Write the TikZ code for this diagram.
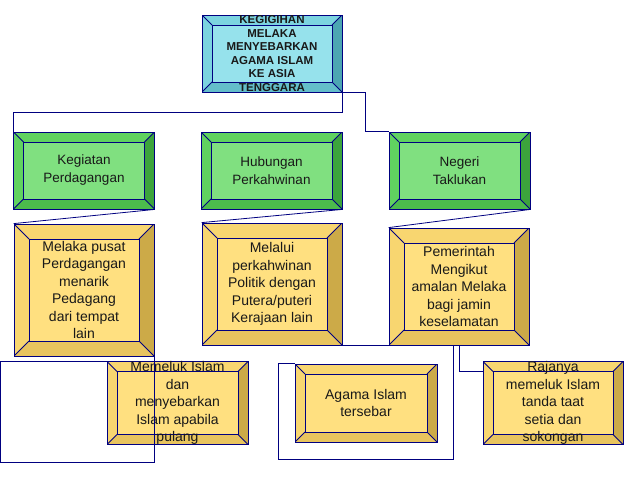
\documentclass[tikz,border=0pt]{standalone}
\usepackage{fontspec}
\setmainfont{Liberation Sans}
\usetikzlibrary{calc}

\definecolor{navy}{RGB}{0,0,128}
\definecolor{cyanface}{RGB}{150,226,236}
\definecolor{cyanlight}{RGB}{124,212,224}
\definecolor{cyanmid}{RGB}{100,190,202}
\definecolor{cyandark}{RGB}{76,166,178}
\definecolor{greenface}{RGB}{128,224,128}
\definecolor{greenlight}{RGB}{96,210,96}
\definecolor{greenmid}{RGB}{76,188,76}
\definecolor{greendark}{RGB}{60,164,60}
\definecolor{yellowface}{RGB}{255,224,128}
\definecolor{yellowlight}{RGB}{248,214,112}
\definecolor{yellowmid}{RGB}{232,196,94}
\definecolor{yellowdark}{RGB}{204,170,72}

\tikzset{
  bev/.style n args={5}{draw=navy, fill=#2, line width=0.8pt, inner sep=0pt,
    align=center, text=black!90,
    path picture={
      \coordinate (oNW) at (path picture bounding box.north west);
      \coordinate (oNE) at (path picture bounding box.north east);
      \coordinate (oSW) at (path picture bounding box.south west);
      \coordinate (oSE) at (path picture bounding box.south east);
      \coordinate (iNW) at ($(oNW)+(#1pt,-#1pt)$);
      \coordinate (iNE) at ($(oNE)+(-#1pt,-#1pt)$);
      \coordinate (iSW) at ($(oSW)+(#1pt,#1pt)$);
      \coordinate (iSE) at ($(oSE)+(-#1pt,#1pt)$);
      \fill[#3] (oNW) -- (oNE) -- (iNE) -- (iNW) -- cycle;
      \fill[#3] (oNW) -- (iNW) -- (iSW) -- (oSW) -- cycle;
      \fill[#5] (oNE) -- (oSE) -- (iSE) -- (iNE) -- cycle;
      \fill[#4] (oSW) -- (iSW) -- (iSE) -- (oSE) -- cycle;
      \draw[navy, line width=0.8pt] (iNW) rectangle (iSE);
      \draw[navy, line width=0.8pt] (oNW) -- (iNW) (oNE) -- (iNE) (oSW) -- (iSW) (oSE) -- (iSE);
    }},
  topbox/.style={bev={10}{cyanface}{cyanlight}{cyanmid}{cyandark},
    minimum width=140pt, minimum height=77pt,
    font=\fontsize{11.5}{13.5}\selectfont\bfseries},
  greenbox/.style={bev={10}{greenface}{greenlight}{greenmid}{greendark},
    minimum width=141pt, minimum height=77pt,
    font=\fontsize{13.5}{18}\selectfont},
  yellowbox/.style={bev={15}{yellowface}{yellowlight}{yellowmid}{yellowdark},
    minimum width=140pt, font=\fontsize{14}{17.5}\selectfont},
  lowbox/.style={bev={10}{yellowface}{yellowlight}{yellowmid}{yellowdark},
    minimum width=141pt, minimum height=78pt, font=\fontsize{14}{17.5}\selectfont},
  link/.style={draw=navy, line width=0.8pt}
}

\begin{document}
\begin{tikzpicture}[x=1pt, y=-1pt]
    \useasboundingbox (0,0) rectangle (638,479);

    % kotak utama
    \node[topbox] (top) at (272,53.5) {KEGIGIHAN\\MELAKA\\MENYEBARKAN\\AGAMA ISLAM\\KE ASIA\\TENGGARA};

    % tiga cara
    \node[greenbox] (keg) at (84,170.5) {Kegiatan\\Perdagangan};
    \node[greenbox] (hub) at (271.5,170.5) {Hubungan\\Perkahwinan};
    \node[greenbox] (neg) at (459.5,170.5) {Negeri\\Taklukan};

    % huraian
    \node[yellowbox, minimum height=132pt] (ket1) at (84,290) {Melaka pusat\\Perdagangan\\menarik\\Pedagang\\dari tempat\\lain};
    \node[yellowbox, minimum height=122pt] (ket2) at (272,284) {Melalui\\perkahwinan\\Politik dengan\\Putera/puteri\\Kerajaan lain};
    \node[yellowbox, minimum height=117pt] (ket3) at (459,286.5) {Pemerintah\\Mengikut\\amalan Melaka\\bagi jamin\\keselamatan};

    % kesan
    \node[lowbox] (kes1) at (177.5,403) {Memeluk Islam\\dan\\menyebarkan\\Islam apabila\\pulang};
    \node[lowbox, minimum width=142pt] (kes2) at (366,403) {Agama Islam\\tersebar};
    \node[lowbox, minimum width=140pt] (kes3) at (553,403) {Rajanya\\memeluk Islam\\tanda taat\\setia dan\\sokongan};

    % titik belok
    \coordinate (belokA) at (0,462);
    \coordinate (belokB) at (278,459);

    % garis penghubung
    \draw[link] (top.south east) -- ++(0,20) -| (keg.north west);
    \draw[link] (top.south east) -- ++(23,0) |- (neg.north west);
    \draw[link] (keg.south east) -- (ket1.north west);
    \draw[link] (hub.south east) -- (ket2.north west);
    \draw[link] (neg.south east) -- (ket3.north west);
    \draw[link] (ket2.south east) -- (ket3.south west);
    \draw[link] (ket1.south east) |- (belokA) |- (kes1.north west);
    \draw[link] ([xshift=-6pt]ket3.south) |- (belokB) |- (kes2.north west);
    \draw[link] (ket3.south) |- ([yshift=-10pt]kes3.north west);
\end{tikzpicture}
\end{document}
